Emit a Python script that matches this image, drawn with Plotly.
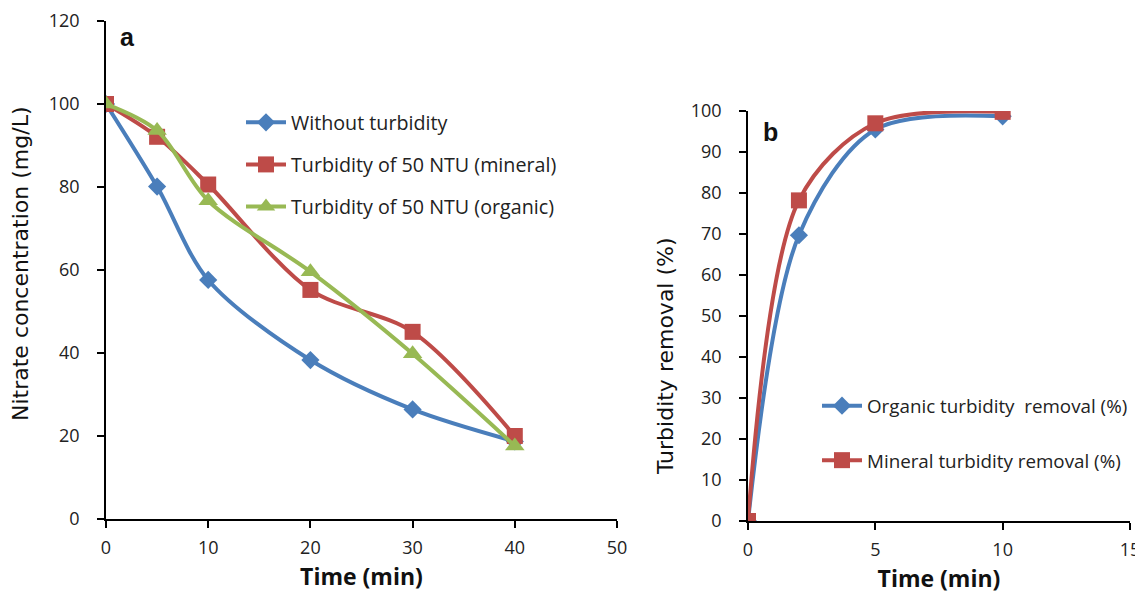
import plotly.graph_objects as go

# Panel a data
time_a = [0, 5, 10, 20, 30, 40]
without_turb = [100, 80.1, 57.6, 38.3, 26.4, 18.7]
mineral_a = [100, 92.1, 80.6, 55.2, 45.1, 20]
organic_a = [100, 93.6, 76.7, 59.6, 39.8, 17.6]

# Panel b data
time_b = [0, 2, 5, 10]
organic_removal = [0, 69.7, 95.5, 98.7]
mineral_removal = [0, 78.2, 97.0, 99.8]

BLUE = "#4A7EBB"
RED = "#BE4B48"
GREEN = "#98B954"
FONT = "Open Sans"
TITLE_FONT = "DejaVu Sans"

# The page body has an 8px margin; size the figure so it fits the window.
W, H, OFF = 1135, 588, 8


def px(X):
    return (X - OFF) / W


def py(Y):
    return 1 - (Y - OFF) / H


fig = go.Figure()


def add(x, y, name, color, symbol, size, xa, ya, legend, group):
    fig.add_trace(go.Scatter(
        x=x, y=y, name=name, mode="lines+markers",
        line=dict(color=color, width=4, shape="spline", smoothing=0.9),
        marker=dict(color=color, symbol=symbol, size=size),
        xaxis=xa, yaxis=ya, legend=legend, legendgroup=group,
    ))


add(time_a, without_turb, "Without turbidity", BLUE, "diamond", 14, "x", "y", "legend", "a1")
add(time_a, mineral_a, "Turbidity of 50 NTU (mineral)", RED, "square", 16, "x", "y", "legend", "a2")
add(time_a, organic_a, "Turbidity of 50 NTU (organic)", GREEN, "triangle-up", 17, "x", "y", "legend", "a3")
add(time_b, organic_removal, "Organic turbidity  removal (%)", BLUE, "diamond", 14, "x2", "y2", "legend2", "b1")
add(time_b, mineral_removal, "Mineral turbidity removal (%)", RED, "square", 16, "x2", "y2", "legend2", "b2")

axis_common = dict(
    showline=True, linecolor="black", linewidth=1.5, ticks="outside",
    ticklen=7, tickcolor="black", tickwidth=1.5, showgrid=False, zeroline=False,
    tickfont=dict(family=FONT, size=18, color="#222"), automargin=False,
)

xtitle = dict(text="<b>Time (min)</b>", font=dict(size=23, family=FONT, color="#111"), standoff=11)


def label(text, X, Y, size, family, angle=0, bold=False):
    return dict(text=f"<b>{text}</b>" if bold else text, x=px(X), y=py(Y),
                xref="paper", yref="paper", xanchor="center", yanchor="middle",
                textangle=angle, showarrow=False,
                font=dict(size=size, family=family, color="#111"))


fig.update_layout(
    width=W, height=H,
    margin=dict(l=0, r=0, t=0, b=0),
    paper_bgcolor="white", plot_bgcolor="white",
    font=dict(family=FONT, color="#222"),
    xaxis=dict(domain=[px(106), px(617)], range=[0, 50], dtick=10, anchor="y",
               ticklabelstandoff=5, title=xtitle, **axis_common),
    yaxis=dict(domain=[py(519), py(21)], range=[0, 120], dtick=20, anchor="x",
               ticklabelstandoff=14, **axis_common),
    xaxis2=dict(domain=[px(748), px(1130)], range=[0, 15], dtick=5, anchor="y2",
                ticklabelstandoff=5, title=xtitle, **axis_common),
    yaxis2=dict(domain=[py(521), py(111)], range=[0, 100], dtick=10, anchor="x2",
                ticklabelstandoff=14, **axis_common),
    legend=dict(x=px(241), y=py(103), xanchor="left", yanchor="top",
                bgcolor="rgba(0,0,0,0)", font=dict(size=19.7, family=FONT, color="#222"),
                tracegroupgap=13.5, itemwidth=40),
    legend2=dict(x=px(817), y=py(387), xanchor="left", yanchor="top",
                 bgcolor="rgba(0,0,0,0)", font=dict(size=18.8, family=FONT, color="#222"),
                 tracegroupgap=27, itemwidth=40),
    annotations=[
        label("a", 127, 37, 25, "Liberation Sans", bold=True),
        label("b", 770, 132, 25, "Liberation Sans", bold=True),
        label("Nitrate concentration (mg/L)", 20, 264, 22, TITLE_FONT, angle=-90),
        label("Turbidity removal (%)", 665, 356, 22, TITLE_FONT, angle=-90),
    ],
)

fig.write_html("out.html")
